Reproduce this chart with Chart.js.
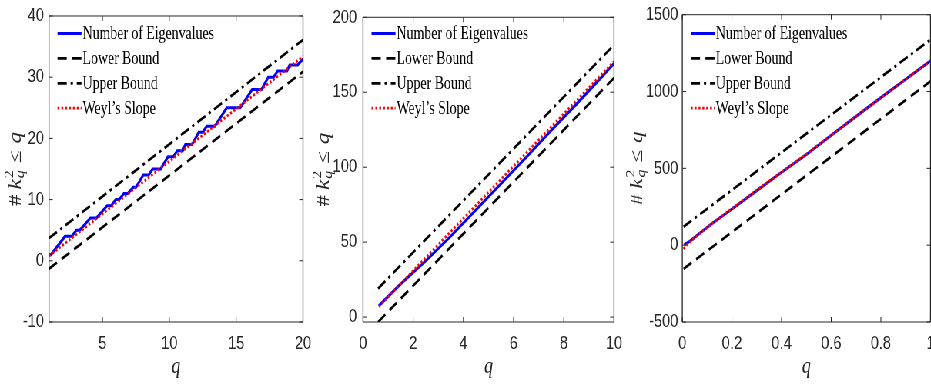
<!DOCTYPE html>
<html>
<head>
<meta charset="utf-8">
<script src="https://cdn.jsdelivr.net/npm/chart.js@4.4.1/dist/chart.umd.min.js"></script>
<style>
html, body { margin: 0; padding: 0; background: #fff; overflow: hidden; width: 931px; height: 384px; }
#wrap { position: absolute; left: 0; top: 0; width: 1247px; height: 384px; transform: scaleX(0.77); transform-origin: 0 0; }
#wrap canvas { position: absolute; left: 0; top: 0; }
</style>
</head>
<body>
<div id="wrap">
  <canvas id="chart1" width="1247" height="384"></canvas>
  <canvas id="chart2" width="1247" height="384"></canvas>
  <canvas id="chart3" width="1247" height="384"></canvas>
</div>
<script>
// Panel 1 (q from 1 to 20)
const eigQ1 = [1.0, 1.15, 2.2, 2.7, 3.05, 3.3, 4.1, 4.55, 5.35, 5.65, 6.0, 6.25, 6.6, 6.9, 7.3, 7.5,
               8.05, 8.45, 8.75, 9.35, 9.9, 10.3, 10.6, 11.0, 11.2, 11.7, 12.2, 12.5, 12.8, 13.4,
               14.3, 15.3, 16.2, 16.9, 17.4, 17.8, 18.1, 18.8, 19.0, 19.6, 20.0];
const eigN1 = [1, 1, 4, 4, 5, 5, 7, 7, 9, 9, 10, 10, 11, 11, 12, 12,
               14, 14, 15, 15, 17, 17, 18, 18, 19, 19, 21, 21, 22, 22,
               25, 25, 28, 28, 30, 30, 31, 31, 32, 32, 33];
const boundQ1 = [1, 20];
const lowerN1 = [-1.3, 30.9];
const upperN1 = [3.7, 36.1];
const weylQ1 = [1, 20];
const weylN1 = [0.8, 33.4];
const xTicks1 = [5, 10, 15, 20];
const yTicks1 = [-10, 0, 10, 20, 30, 40];

// Panel 2 (q from 0 to 10)
const eigQ2 = [0.63, 1.5, 2.5, 3.5, 4.5, 5.5, 6.5, 7.5, 8.5, 9.5, 10];
const eigN2 = [7.5, 22, 37.5, 54, 71.5, 89, 106.5, 124.5, 142, 160, 169.3];
const boundQ2 = [0.6, 10];
const lowerN2 = [-3.3, 159.5];
const upperN2 = [19, 181.5];
const weylQ2 = [0.63, 10];
const weylN2 = [7, 170.5];
const xTicks2 = [0, 2, 4, 6, 8, 10];
const yTicks2 = [0, 50, 100, 150, 200];

// Panel 3 (q from 0 to 1)
const eigQ3 = [0.007, 0.03, 0.06, 0.12, 0.2, 0.3, 0.4, 0.5, 0.6, 0.7, 0.8, 0.9, 1.0];
const eigN3 = [2, 25, 65, 141, 235, 355, 475, 590, 715, 838, 960, 1080, 1200];
const boundQ3 = [0.005, 1];
const lowerN3 = [-154, 1067];
const upperN3 = [120, 1338];
const weylQ3 = [0.005, 0.02, 0.05, 0.12, 0.3, 0.5, 0.7, 1.0];
const weylN3 = [-25, 5, 50, 141, 358, 592, 838, 1200];
const xTicks3 = [0, 0.2, 0.4, 0.6, 0.8, 1];
const yTicks3 = [-500, 0, 500, 1000, 1500];

const seriesNames = ['Number of Eigenvalues', 'Lower Bound', 'Upper Bound', 'Weyl\u2019s Slope'];

const S = 0.77;          // horizontal squeeze of the whole figure
const W = 1247;          // canvas width before squeeze
const u = px => px / S;  // screen px -> canvas px
const INK = '#262626';

const toPoints = (xs, ys) => xs.map((x, i) => ({ x: x, y: ys[i] }));

// box, inward ticks, legend and axis titles, MATLAB style
const matlabFrame = {
    id: 'matlabFrame',
    afterDraw(chart, args, opts) {
        const ctx = chart.ctx;
        const a = chart.chartArea;
        const xs = chart.scales.x, ys = chart.scales.y;
        ctx.save();
        ctx.strokeStyle = INK;
        ctx.setLineDash([]);
        // ticks
        ctx.lineWidth = 1;
        ctx.beginPath();
        xs.ticks.forEach(t => {
            const px = xs.getPixelForValue(t.value);
            ctx.moveTo(px, a.bottom); ctx.lineTo(px, a.bottom - 5);
            ctx.moveTo(px, a.top); ctx.lineTo(px, a.top + 5);
        });
        ys.ticks.forEach(t => {
            const py = ys.getPixelForValue(t.value);
            ctx.moveTo(a.left, py); ctx.lineTo(a.left + 5, py);
            ctx.moveTo(a.right, py); ctx.lineTo(a.right - 5, py);
        });
        ctx.stroke();
        // box
        ctx.lineWidth = 1;
        ctx.beginPath();
        ctx.moveTo(a.left, a.top); ctx.lineTo(a.right, a.top);
        ctx.moveTo(a.left, a.bottom); ctx.lineTo(a.right, a.bottom);
        ctx.stroke();
        ctx.lineWidth = 1.3;
        ctx.beginPath();
        ctx.moveTo(a.left, a.top); ctx.lineTo(a.left, a.bottom);
        ctx.moveTo(a.right, a.top); ctx.lineTo(a.right, a.bottom);
        ctx.stroke();

        // legend
        const lx = a.left + u(8.5), len = u(24);
        ctx.font = '18px "Liberation Serif", serif';
        ctx.fillStyle = '#000';
        ctx.textAlign = 'left';
        ctx.textBaseline = 'alphabetic';
        chart.data.datasets.forEach((ds, i) => {
            const y = 33.5 + 24.9 * i;
            ctx.save();
            ctx.strokeStyle = ds.borderColor;
            ctx.lineWidth = ds.borderWidth;
            ctx.setLineDash(ds.borderDash || []);
            ctx.beginPath();
            ctx.moveTo(lx, y); ctx.lineTo(lx + len, y);
            ctx.stroke();
            ctx.restore();
            ctx.fillText(ds.label, lx + len + u(1), y + 5.5);
        });

        // x title
        ctx.fillStyle = INK;
        ctx.textAlign = 'center';
        ctx.font = 'italic 23px "Liberation Serif", serif';
        ctx.fillText('q', (a.left + a.right) / 2, 373);

        // y title  #k_q^2 <= q
        ctx.translate(a.left - u(opts.titleGap), (a.top + a.bottom) / 2);
        ctx.rotate(-Math.PI / 2);
        const big = '23px "Liberation Serif", serif';
        const bigIt = 'italic 23px "Liberation Serif", serif';
        const sm = '16px "Liberation Serif", serif';
        const smIt = 'italic 16px "Liberation Serif", serif';
        const widthOf = (t, f) => { ctx.font = f; return ctx.measureText(t).width; };
        const wHash = widthOf('#', big), wK = widthOf('k', bigIt);
        const wScript = Math.max(widthOf('2', sm), widthOf('q', smIt));
        const wLe = widthOf('\u2264', big), wQ = widthOf('q', bigIt);
        const gap = 7;
        const total = wHash + 5 + wK + 1 + wScript + gap + wLe + gap + wQ;
        let x = -total / 2;
        ctx.textAlign = 'left';
        ctx.font = big; ctx.fillText('#', x, 0); x += wHash + 5;
        ctx.font = bigIt; ctx.fillText('k', x, 0); x += wK + 1;
        ctx.font = sm; ctx.fillText('2', x, -10);
        ctx.font = smIt; ctx.fillText('q', x, 4); x += wScript + gap;
        ctx.font = big; ctx.fillText('\u2264', x, 0); x += wLe + gap;
        ctx.font = bigIt; ctx.fillText('q', x, 0);
        ctx.restore();
    }
};

function makePanel(id, p) {
    const datasets = [
        { label: seriesNames[0], data: toPoints(p.eigQ, p.eigN), borderColor: 'rgb(0, 0, 255)', borderWidth: 3, order: 4 },
        { label: seriesNames[1], data: toPoints(p.boundQ, p.lower), borderColor: '#000', borderWidth: 2.7, borderDash: [12, 7], order: 3 },
        { label: seriesNames[2], data: toPoints(p.boundQ, p.upper), borderColor: '#000', borderWidth: 2.7, borderDash: [12, 5, 3, 5], order: 2 },
        { label: seriesNames[3], data: toPoints(p.weylQ, p.weyl), borderColor: 'rgb(255, 0, 0)', borderWidth: 2.8, borderDash: [2.5, 2.5], order: 1 }
    ];
    datasets.forEach(d => { d.pointRadius = 0; d.tension = 0; d.fill = false; });

    const tickFont = { family: '"Liberation Sans", Arial, sans-serif', size: 19, lineHeight: 1 };
    new Chart(document.getElementById(id), {
        type: 'line',
        data: { datasets: datasets },
        options: {
            responsive: false,
            animation: false,
            events: [],
            layout: { padding: { left: u(p.left - 49), right: W - u(p.right), top: 9, bottom: 0 } },
            plugins: { legend: { display: false }, tooltip: { enabled: false }, matlabFrame: { titleGap: p.titleGap } },
            scales: {
                x: {
                    type: 'linear',
                    min: p.xMin, max: p.xMax,
                    grid: { display: false, drawTicks: false },
                    border: { display: false },
                    afterBuildTicks: s => { s.ticks = p.xTicks.map(v => ({ value: v })); },
                    afterFit: s => { s.height = 384 - 322; },
                    ticks: { color: INK, font: tickFont, padding: 12, maxRotation: 0, autoSkip: false, callback: v => String(v) }
                },
                y: {
                    type: 'linear',
                    min: p.yMin, max: p.yMax,
                    grid: { display: false, drawTicks: false },
                    border: { display: false },
                    afterBuildTicks: s => { s.ticks = p.yTicks.map(v => ({ value: v })); },
                    afterFit: s => { s.width = u(49); },
                    ticks: { color: INK, font: tickFont, padding: u(p.labelGap), autoSkip: false, callback: v => String(v) }
                }
            }
        },
        plugins: [matlabFrame]
    });
}

makePanel('chart1', {
    eigQ: eigQ1, eigN: eigN1, boundQ: boundQ1, lower: lowerN1, upper: upperN1, weylQ: weylQ1, weyl: weylN1,
    xMin: 1, xMax: 20, yMin: -10, yMax: 40, xTicks: xTicks1, yTicks: yTicks1,
    left: 49, right: 303, labelGap: 5, titleGap: 28
});
makePanel('chart2', {
    eigQ: eigQ2, eigN: eigN2, boundQ: boundQ2, lower: lowerN2, upper: upperN2, weylQ: weylQ2, weyl: weylN2,
    xMin: 0, xMax: 10, yMin: -3.3, yMax: 200, xTicks: xTicks2, yTicks: yTicks2,
    left: 363, right: 614, labelGap: 6, titleGap: 34
});
makePanel('chart3', {
    eigQ: eigQ3, eigN: eigN3, boundQ: boundQ3, lower: lowerN3, upper: upperN3, weylQ: weylQ3, weyl: weylN3,
    xMin: 0, xMax: 1, yMin: -500, yMax: 1500, xTicks: xTicks3, yTicks: yTicks3,
    left: 682.3, right: 930.5, labelGap: 4, titleGap: 40
});
</script>
</body>
</html>
